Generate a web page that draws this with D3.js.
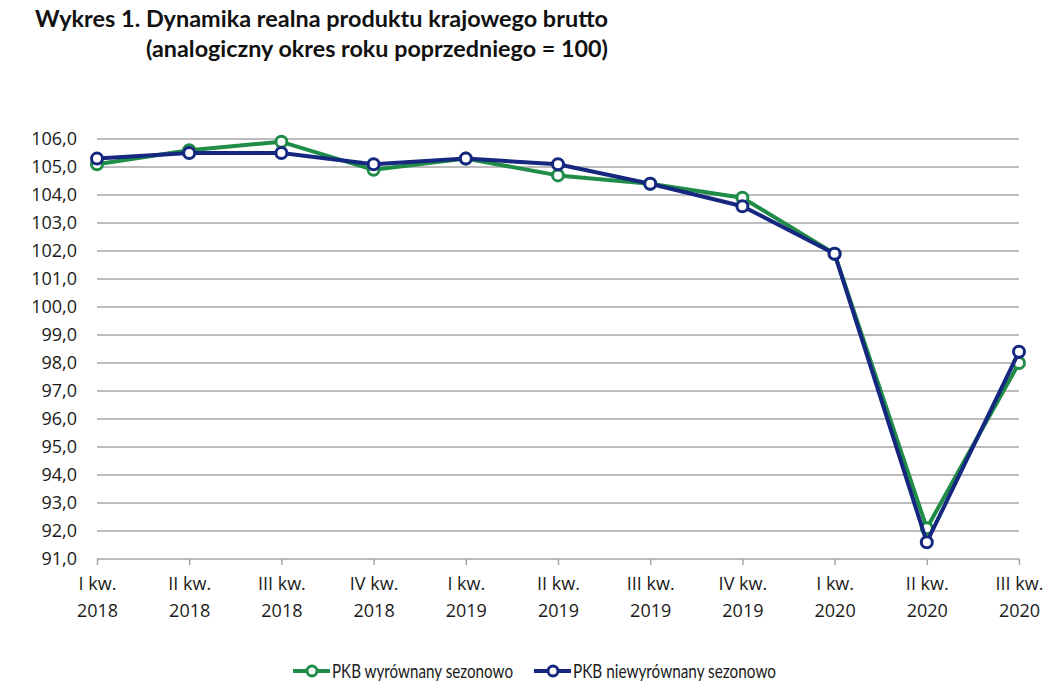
<!DOCTYPE html>
<html>
<head>
<meta charset="utf-8">
<script src="https://cdn.jsdelivr.net/npm/d3@7"></script>
<style>
  body { margin: 0; background: #fff; }
  svg { display: block; }
</style>
</head>
<body>
<div id="chart"></div>
<script>
// kwartały (dwie linie etykiety)
var quarters = ["I kw.", "II kw.", "III kw.", "IV kw.", "I kw.", "II kw.", "III kw.", "IV kw.", "I kw.", "II kw.", "III kw."];
var years = ["2018", "2018", "2018", "2018", "2019", "2019", "2019", "2019", "2020", "2020", "2020"];

// PKB wyrównany sezonowo
var pkbSa = [105.1, 105.6, 105.9, 104.9, 105.3, 104.7, 104.4, 103.9, 101.9, 92.1, 98.0];
// PKB niewyrównany sezonowo
var pkbNsa = [105.3, 105.5, 105.5, 105.1, 105.3, 105.1, 104.4, 103.6, 101.9, 91.6, 98.4];

var yTicks = d3.range(91, 106.5, 1);

var width = 1060, height = 697;
var margin = {top: 139, right: 41, bottom: 138, left: 97};

var svg = d3.select("#chart").append("svg")
    .attr("width", width)
    .attr("height", height);

var green = "#1f8c47", navy = "#15277f";

// tytuł
var title = svg.append("g")
    .attr("font-family", "Lato, 'Open Sans', sans-serif")
    .attr("font-weight", 700)
    .attr("font-size", 22)
    .attr("fill", "#111");
title.append("text")
    .attr("x", 35).attr("y", 27)
    .attr("textLength", 573).attr("lengthAdjust", "spacingAndGlyphs")
    .text("Wykres 1. Dynamika realna produktu krajowego brutto");
title.append("text")
    .attr("x", 146).attr("y", 57)
    .attr("textLength", 462).attr("lengthAdjust", "spacingAndGlyphs")
    .text("(analogiczny okres roku poprzedniego = 100)");

var x = d3.scalePoint()
    .domain(d3.range(quarters.length))
    .range([margin.left, width - margin.right]);

var y = d3.scaleLinear()
    .domain([91, 106])
    .range([height - margin.bottom, margin.top]);

// siatka
svg.append("g")
    .selectAll("line")
    .data(yTicks.filter(function(d) { return d > 91; }))
    .enter().append("line")
    .attr("x1", margin.left).attr("x2", width - margin.right)
    .attr("y1", function(d) { return y(d); })
    .attr("y2", function(d) { return y(d); })
    .attr("stroke", "#a6a6a6")
    .attr("stroke-width", 1.5);

// oś Y (tylko etykiety)
var yAxis = svg.append("g")
    .attr("transform", "translate(" + margin.left + ",0)")
    .call(d3.axisLeft(y).tickValues(yTicks).tickSize(0).tickPadding(20)
        .tickFormat(function(d) { return d3.format(".1f")(d).replace(".", ","); }));
yAxis.select(".domain").remove();
yAxis.selectAll("text")
    .attr("font-family", "'Open Sans', sans-serif")
    .attr("font-size", 18)
    .attr("fill", "#1a1a1a");

// oś X
var xAxis = svg.append("g")
    .attr("transform", "translate(0," + y(91) + ")")
    .call(d3.axisBottom(x).tickSize(6).tickFormat(""));
xAxis.select(".domain")
    .attr("stroke", "#a6a6a6").attr("stroke-width", 1.5)
    .attr("d", "M" + margin.left + ",0H" + (width - margin.right));
xAxis.selectAll(".tick line").attr("stroke", "#a6a6a6").attr("stroke-width", 1.5);

var xl = xAxis.selectAll(".tick").append("text")
    .attr("font-family", "'Open Sans', sans-serif")
    .attr("font-size", 18)
    .attr("fill", "#1a1a1a")
    .attr("text-anchor", "middle");
xl.append("tspan").attr("x", 0).attr("y", 31)
    .text(function(d) { return quarters[d]; });
xl.append("tspan").attr("x", 0).attr("y", 58)
    .text(function(d) { return years[d]; });

// serie
var series = [
  {name: "PKB wyrównany sezonowo", values: pkbSa, color: green, lx: 293, tl: 181},
  {name: "PKB niewyrównany sezonowo", values: pkbNsa, color: navy, lx: 534, tl: 203}
];

var line = d3.line()
    .x(function(d, i) { return x(i); })
    .y(function(d) { return y(d); });

series.forEach(function(s) {
  var g = svg.append("g");
  g.append("path")
      .datum(s.values)
      .attr("d", line)
      .attr("fill", "none")
      .attr("stroke", s.color)
      .attr("stroke-width", 4)
      .attr("stroke-linejoin", "round");
  g.selectAll("circle")
      .data(s.values)
      .enter().append("circle")
      .attr("cx", function(d, i) { return x(i); })
      .attr("cy", function(d) { return y(d); })
      .attr("r", 5.5)
      .attr("fill", "#fff")
      .attr("stroke", s.color)
      .attr("stroke-width", 3);
});

// legenda
var legend = svg.append("g").selectAll("g")
    .data(series)
    .enter().append("g")
    .attr("transform", function(d) { return "translate(" + d.lx + ",671)"; });
legend.append("line")
    .attr("x1", 0).attr("x2", 37)
    .attr("stroke", function(d) { return d.color; })
    .attr("stroke-width", 4);
legend.append("circle")
    .attr("cx", 19).attr("r", 5)
    .attr("fill", "#fff")
    .attr("stroke", function(d) { return d.color; })
    .attr("stroke-width", 3);
legend.append("text")
    .attr("x", 39).attr("y", 7)
    .attr("font-family", "Lato, sans-serif")
    .attr("font-size", 20)
    .attr("fill", "#1a1a1a")
    .attr("textLength", function(d) { return d.tl; })
    .attr("lengthAdjust", "spacingAndGlyphs")
    .text(function(d) { return d.name; });
</script>
</body>
</html>
